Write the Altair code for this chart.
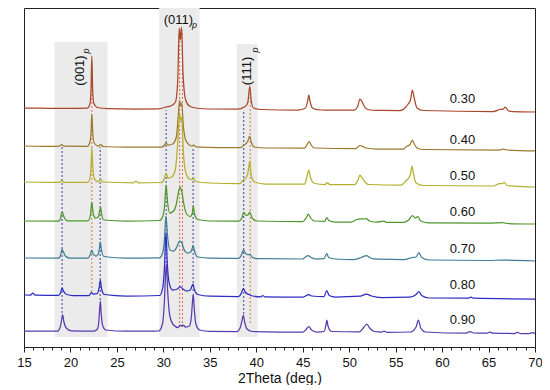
import altair as alt
import pandas as pd

# ---------------- data ----------------
samples = ["0.30", "0.40", "0.50", "0.60", "0.70", "0.80", "0.90"]
colors = ["#a8472b", "#9a7a2c", "#b5b02c", "#4f962c", "#3f7d96", "#2b2bc4", "#5a3aae"]
offsets = [235, 196, 160, 123, 86, 48, 13]          # stacking offset of each pattern
label_y = [248, 207, 171, 135, 98, 62, 27]          # position of the "0.xx" labels
label_theta = 62.2

# (2theta, intensity) pairs for each pattern
p030 = [(15, 4), (17, 3.8), (20, 3.6), (21.8, 3.8), (22.1, 8), (22.22, 25), (22.3, 56), (22.38, 25),
        (22.5, 9), (22.9, 4.5), (24, 3.3), (27, 3), (29.5, 3.2), (30.3, 5), (30.8, 6), (31.3, 10),
        (31.55, 32), (31.7, 84), (31.82, 72), (31.95, 85), (32.12, 38), (32.4, 12), (32.8, 6), (33.5, 4),
        (35, 3), (38, 2.8), (38.7, 5), (38.95, 7), (39.1, 10), (39.3, 26), (39.45, 12), (39.7, 4),
        (40.5, 2.5), (44.5, 2.0), (45.3, 4), (45.55, 12), (45.65, 17), (45.8, 10), (46.1, 3.5), (47, 2),
        (50.5, 1.8), (50.9, 5), (51.15, 13), (51.35, 11), (51.6, 6), (52, 2.5), (53, 1.6), (55.5, 1.5),
        (56.1, 5), (56.35, 8), (56.6, 12), (56.8, 22), (57.0, 14), (57.3, 4), (58, 1.5), (65.5, 0.5),
        (66.2, 2.5), (66.4, 3), (66.55, 2.6), (66.8, 5), (67.1, 1.5), (67.6, 0.3), (70, 0)]
p040 = [(15, 5), (18, 4.6), (18.8, 4.8), (19.05, 6.5), (19.3, 4.8), (21.8, 4.6), (22.1, 9), (22.22, 20),
        (22.3, 37), (22.4, 18), (22.55, 8), (23.0, 5), (23.25, 6.5), (23.5, 4.5), (26, 4), (29.8, 4),
        (30.15, 6), (30.3, 8), (30.5, 6), (31.0, 7), (31.4, 14), (31.6, 35), (31.75, 51), (31.85, 45),
        (31.97, 48), (32.15, 25), (32.4, 11), (32.8, 6), (33.1, 5), (33.25, 6), (33.5, 4.2), (36, 3.5),
        (38.3, 3.5), (38.7, 6), (38.95, 8), (39.1, 10), (39.3, 15), (39.45, 9), (39.8, 4), (41, 3),
        (45.2, 2.8), (45.5, 7), (45.7, 9.5), (45.9, 6), (46.3, 3), (50.7, 2.3), (51.15, 5.5), (51.4, 4.8),
        (51.8, 3), (53, 2), (55.8, 2), (56.25, 5), (56.55, 6.5), (56.8, 11), (57.0, 7), (57.4, 2.5),
        (58, 1.5), (66, 0.8), (66.6, 2), (67, 1), (70, 0)]
p050 = [(15, 5), (18.8, 4.6), (19.05, 6.5), (19.3, 4.6), (21.9, 4.6), (22.12, 10), (22.22, 22), (22.3, 39),
        (22.4, 20), (22.55, 9), (22.9, 5.5), (23.1, 6), (23.25, 8), (23.45, 5), (26.8, 4.2), (27.05, 6),
        (27.3, 4.2), (29.8, 4.5), (30.1, 8), (30.3, 14), (30.5, 9), (30.9, 10), (31.3, 18), (31.55, 45),
        (31.75, 74), (31.85, 66), (31.97, 70), (32.15, 35), (32.4, 15), (32.8, 8), (33.1, 7.5), (33.25, 9),
        (33.45, 5.5), (35, 4), (38.2, 3.5), (38.6, 7), (38.9, 9), (39.1, 14), (39.3, 26), (39.45, 12),
        (39.8, 5), (41, 3), (45.2, 3), (45.45, 10), (45.65, 17), (45.85, 9), (46.3, 3.5), (47.4, 2.5),
        (47.65, 4.5), (47.9, 2.5), (50.6, 2.5), (50.95, 7), (51.15, 12), (51.4, 9), (51.7, 5), (52.1, 2.5),
        (55.6, 2), (56.1, 6), (56.4, 9), (56.6, 13), (56.75, 21), (56.95, 12), (57.2, 4), (58, 1.5),
        (65.5, 1), (66.2, 3.5), (66.45, 3.5), (66.7, 4.5), (67, 1.5), (70, 0)]
p060 = [(15, 3), (18.7, 2.8), (18.95, 6), (19.05, 11), (19.15, 11.5), (19.35, 6), (19.7, 3.2), (21.9, 3.2),
        (22.15, 9), (22.3, 22), (22.45, 10), (22.7, 6), (23.0, 7), (23.12, 12), (23.25, 17), (23.35, 10),
        (23.6, 4), (26, 3), (29.6, 3.5), (29.95, 8), (30.15, 20), (30.3, 39), (30.45, 22), (30.7, 11),
        (31.1, 13), (31.4, 20), (31.65, 33), (31.8, 37), (31.95, 34), (32.2, 20), (32.5, 10), (32.9, 7.5),
        (33.1, 10), (33.22, 18), (33.35, 10), (33.7, 4.5), (35, 3), (38.1, 2.8), (38.45, 6), (38.65, 12),
        (38.85, 9), (39.1, 9), (39.3, 12), (39.55, 6), (40.1, 3), (45.0, 2.5), (45.4, 6.5), (45.6, 10),
        (45.85, 6), (46.3, 3), (47.35, 2.7), (47.6, 6.5), (47.8, 3.5), (48.5, 2), (50.2, 2), (50.8, 4.5),
        (51.2, 5.2), (51.5, 5), (51.8, 5.5), (52.2, 3), (53, 1.8), (53.75, 2.8), (54, 1.6), (55.8, 1.6),
        (56.4, 4), (56.8, 8.5), (57.1, 6), (57.4, 7.5), (57.7, 3), (58.5, 1.2), (65, 0.8), (66.5, 1.5),
        (67, 0.5), (70, 0)]
p070 = [(15, 3), (18.7, 2.8), (18.95, 6), (19.07, 11.5), (19.2, 10), (19.45, 5), (19.9, 3), (21.9, 3),
        (22.12, 6), (22.3, 11), (22.45, 7), (22.75, 5), (23.0, 7), (23.12, 13), (23.22, 19), (23.32, 12),
        (23.6, 4.5), (26, 2.8), (29.6, 3.2), (29.95, 9), (30.12, 22), (30.28, 45), (30.45, 25), (30.7, 11),
        (31.1, 10), (31.45, 14), (31.75, 20), (31.95, 19), (32.2, 12), (32.6, 8), (32.95, 9), (33.12, 13),
        (33.22, 15.5), (33.35, 10), (33.7, 4), (35, 2.8), (38.1, 2.6), (38.4, 6), (38.62, 11), (38.85, 7.5),
        (39.1, 6.5), (39.3, 6.5), (39.6, 3.5), (40.2, 2.3), (45.0, 2), (45.35, 4.5), (45.6, 5.5), (45.9, 3.5),
        (46.5, 2), (47.3, 2.3), (47.58, 7.5), (47.8, 3.5), (48.5, 2), (50.5, 1.5), (51.3, 3.5), (51.85, 5.5),
        (52.3, 3), (53, 1.8), (56, 1.5), (56.8, 3.5), (57.2, 4), (57.5, 8.5), (57.8, 3.5), (58.6, 1),
        (65, 0.5), (66.5, 1), (70, 0)]
p080 = [(15, 4), (15.7, 3.9), (15.95, 6), (16.2, 3.9), (18.7, 3.6), (18.95, 6.5), (19.1, 11), (19.25, 8),
        (19.6, 4.5), (20.3, 3.4), (22.0, 3.3), (22.25, 6.5), (22.45, 5), (22.9, 5.5), (23.08, 11), (23.22, 19),
        (23.35, 10), (23.65, 4.5), (26, 3), (29.6, 3.5), (29.95, 12), (30.12, 32), (30.28, 66), (30.42, 36),
        (30.65, 15), (31.0, 9), (31.5, 10), (31.8, 12.5), (32.1, 10), (32.5, 8), (32.9, 9), (33.08, 13),
        (33.2, 15), (33.32, 10), (33.7, 4.5), (35, 2.8), (38.1, 2.5), (38.4, 6), (38.6, 10.5), (38.85, 6.5),
        (39.2, 4.5), (39.6, 3), (40.5, 2.2), (40.7, 3.5), (40.9, 2.2), (45, 1.8), (45.4, 3.5), (45.65, 4.5),
        (45.95, 3), (47.3, 2.3), (47.58, 8.5), (47.85, 3.5), (48.5, 2), (51.2, 2.8), (51.85, 5), (52.4, 3),
        (53.5, 1.5), (56.5, 1.8), (57.2, 4.5), (57.5, 7.5), (57.8, 3.5), (58.6, 1), (62.8, 0.8), (63.1, 1.8),
        (63.4, 0.8), (70, 0)]
p090 = [(15, 3), (18.6, 2.8), (18.9, 7), (19.05, 14), (19.15, 19.5), (19.3, 12), (19.55, 6), (20.1, 3.2),
        (22.5, 2.8), (22.9, 5), (23.05, 12), (23.15, 26), (23.22, 33), (23.3, 22), (23.45, 9), (23.8, 4),
        (26, 2.8), (29.5, 3), (29.9, 10), (30.1, 30), (30.25, 62), (30.32, 70), (30.45, 45), (30.7, 18),
        (31.1, 9), (31.6, 6.5), (31.8, 9), (31.95, 8), (32.1, 9), (32.4, 7), (32.8, 8), (33.0, 16),
        (33.15, 34), (33.22, 40), (33.32, 26), (33.5, 10), (33.9, 4), (35, 2.6), (37.9, 2.4), (38.3, 7),
        (38.5, 15), (38.6, 19), (38.75, 12), (39.0, 5), (39.6, 2.5), (45.0, 1.8), (45.4, 5), (45.65, 7.5),
        (45.95, 4), (46.5, 2), (47.3, 2.5), (47.5, 9), (47.6, 14), (47.72, 8), (48.1, 2.5), (51.1, 2.2),
        (51.6, 7), (51.9, 10), (52.2, 6), (52.7, 2.5), (53.5, 2), (53.75, 3), (54.1, 1.6), (56.6, 2),
        (57.2, 7), (57.45, 14), (57.7, 6), (58.2, 2), (62.6, 0.8), (63.0, 2.5), (63.4, 1), (64.8, 0.8),
        (65.1, 1.8), (65.5, 0.8), (67.8, 0.5), (68.1, 1.6), (68.5, 0.5), (69.4, 0.5), (69.65, 1.3), (70, 0.6)]
patterns = [p030, p040, p050, p060, p070, p080, p090]

# shaded reflection regions: theta start, theta end, top, bottom
band_start = [18.3, 29.55, 37.93]
band_end = [24.0, 33.9, 40.15]
band_top = [305, 339, 303]
band_bottom = [10, 10, 10]

# dashed guide lines: theta, y top, y bottom
blue_theta = [19.1, 23.2, 30.3, 33.2, 38.65]
blue_top = [200, 200, 237, 200, 237]
blue_bottom = [34, 47, 84, 56, 33]
red_theta = [22.3, 31.75, 32.05, 39.35]
red_top = [287, 317, 317, 257]
red_bottom = [55, 20, 20, 24]

# reflection labels
hkl_text = ["(001)", "(011)", "(111)"]
hkl_theta = [21.06, 31.62, 39.04]
hkl_y = [276.5, 327.5, 276]
hkl_angle = [270, 0, 270]
sub_theta = [21.63, 33.35, 39.83]
sub_y = [296, 322, 297]

# axis ticks
major_ticks = list(range(15, 71, 5))
minor_ticks = list(range(15, 71))

# ---------------- tables ----------------
rows = []
for s, off, pts in zip(samples, offsets, patterns):
    for t, v in pts:
        rows.append({"theta": t, "y": v + off, "sample": s})
df = pd.DataFrame(rows)

bands = pd.DataFrame({"x": band_start, "x2": band_end, "y": band_bottom, "y2": band_top})
blue = pd.DataFrame({"x": blue_theta, "y": blue_bottom, "y2": blue_top})
red = pd.DataFrame({"x": red_theta, "y": red_bottom, "y2": red_top})
labels = pd.DataFrame({"x": [label_theta] * len(samples), "y": label_y, "text": samples})
hkl = pd.DataFrame({"x": hkl_theta, "y": hkl_y, "text": hkl_text, "angle": hkl_angle})
sub = pd.DataFrame({"x": sub_theta, "y": sub_y, "text": ["p"] * 3, "angle": hkl_angle})

FONT = "Liberation Sans"
xscale = alt.Scale(domain=[15, 70], nice=False, zero=False)
yscale = alt.Scale(domain=[0, 339], nice=False, zero=False)

xaxis = alt.Axis(
    title="2Theta (deg.)", values=major_ticks, orient="bottom", tickSize=5,
    labelOverlap=False, labelFlush=False, grid=False, domain=False,
    tickColor="#222", labelColor="#111", titleColor="#111",
    labelFont=FONT, labelFontSize=13, titleFont=FONT, titleFontSize=14, titleFontWeight="normal",
    labelPadding=4, titlePadding=2,
)
minor_axis = alt.Axis(
    title=None, values=minor_ticks, orient="bottom", tickSize=3, labels=False,
    grid=False, domain=False, tickColor="#222",
)
yaxis = alt.Axis(
    title="Intensity (a. u.)", labels=False, ticks=False, domain=False, grid=False,
    titleFont=FONT, titleFontSize=14, titleFontWeight="normal", titleColor="#111", titlePadding=3,
)

band_layer = alt.Chart(bands).mark_rect(color="#ebebeb").encode(
    x=alt.X("x:Q", scale=xscale, axis=xaxis), x2="x2:Q",
    y=alt.Y("y:Q", scale=yscale, axis=yaxis), y2="y2:Q",
)

blue_layer = alt.Chart(blue).mark_rule(strokeDash=[2, 2], strokeWidth=1, color="#3d3d95").encode(
    x=alt.X("x:Q", axis=minor_axis), y=alt.Y("y:Q", axis=None), y2="y2:Q",
)
red_layer = alt.Chart(red).mark_rule(strokeDash=[2, 2], strokeWidth=1, color="#e0704c").encode(
    x=alt.X("x:Q", axis=None), y=alt.Y("y:Q", axis=None), y2="y2:Q",
)

line_layer = alt.Chart(df).mark_line(strokeWidth=1.25, interpolate="monotone").encode(
    x=alt.X("theta:Q", axis=None), y=alt.Y("y:Q", axis=None),
    color=alt.Color("sample:N", scale=alt.Scale(domain=samples, range=colors), legend=None),
    detail="sample:N",
)

label_layer = alt.Chart(labels).mark_text(font=FONT, fontSize=13, color="#111").encode(
    x=alt.X("x:Q", axis=None), y=alt.Y("y:Q", axis=None), text="text:N",
)

hkl_layer = alt.Chart(hkl).mark_text(font=FONT, fontSize=13, color="#111", baseline="middle", align="center").encode(
    x=alt.X("x:Q", axis=None), y=alt.Y("y:Q", axis=None), text="text:N", angle=alt.Angle("angle:Q", scale=None),
)
sub_layer = alt.Chart(sub).mark_text(font=FONT, fontSize=9, fontStyle="italic", color="#111",
                                     baseline="middle", align="center").encode(
    x=alt.X("x:Q", axis=None), y=alt.Y("y:Q", axis=None), text="text:N", angle=alt.Angle("angle:Q", scale=None),
)

chart = alt.layer(band_layer, blue_layer, red_layer, line_layer, label_layer, hkl_layer, sub_layer).resolve_axis(
    x="independent"
).properties(
    width=511, height=339,
    autosize=alt.AutoSizeParams(type="none"),
    padding={"left": 16, "top": 0, "right": 7, "bottom": 38},
).configure_view(stroke="#222", strokeWidth=1)

chart.save("out.html", embed_options={"renderer": "svg", "actions": False})
